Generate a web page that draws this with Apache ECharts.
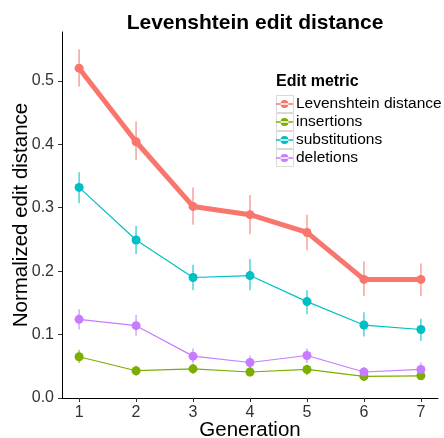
<!DOCTYPE html>
<html><head><meta charset="utf-8">
<script src="https://cdn.jsdelivr.net/npm/echarts@6/dist/echarts.min.js"></script>
<style>html,body{margin:0;padding:0;background:#fff}#c{width:444px;height:438px}</style>
</head><body><div id="c"></div>
<script>
const generations = [1, 2, 3, 4, 5, 6, 7];
const seriesNames = ['Levenshtein distance', 'insertions', 'substitutions', 'deletions'];
const colors = ['#F8766D', '#7CAE00', '#00BFC4', '#C77CFF'];
const levMean = [0.520, 0.404, 0.302, 0.289, 0.261, 0.187, 0.187];
const levLow  = [0.491, 0.375, 0.273, 0.258, 0.233, 0.161, 0.161];
const levHigh = [0.550, 0.436, 0.332, 0.320, 0.289, 0.215, 0.212];
const insMean = [0.065, 0.043, 0.046, 0.041, 0.045, 0.034, 0.035];
const insLow  = [0.055, 0.035, 0.038, 0.034, 0.036, 0.028, 0.029];
const insHigh = [0.076, 0.051, 0.054, 0.049, 0.053, 0.040, 0.042];
const subMean = [0.332, 0.249, 0.190, 0.193, 0.152, 0.115, 0.108];
const subLow  = [0.307, 0.227, 0.170, 0.170, 0.132, 0.097, 0.090];
const subHigh = [0.356, 0.271, 0.210, 0.219, 0.170, 0.135, 0.125];
const delMean = [0.124, 0.114, 0.066, 0.056, 0.067, 0.041, 0.045];
const delLow  = [0.108, 0.098, 0.055, 0.046, 0.055, 0.033, 0.035];
const delHigh = [0.140, 0.131, 0.078, 0.067, 0.078, 0.049, 0.056];
const yTicks = [0, 0.1, 0.2, 0.3, 0.4, 0.5];

const means = [levMean, insMean, subMean, delMean];
const lows = [levLow, insLow, subLow, delLow];
const highs = [levHigh, insHigh, subHigh, delHigh];
const widths = [5, 1.2, 1.2, 1.2];
const FONT = 'Liberation Sans, Arial, sans-serif';

const chart = echarts.init(document.getElementById('c'), null, {renderer: 'canvas'});
const series = [];
seriesNames.forEach((name, i) => {
  series.push({
    type: 'custom', name: name + ' err', silent: true, z: 1,
    data: generations.map((g, k) => [g, lows[i][k], highs[i][k]]),
    renderItem: (params, api) => {
      const a = api.coord([api.value(0), api.value(1)]);
      const b = api.coord([api.value(0), api.value(2)]);
      return {type: 'line', shape: {x1: a[0], y1: a[1], x2: b[0], y2: b[1]},
        style: {stroke: colors[i], lineWidth: 1.3, opacity: 0.8}};
    }
  });
});
seriesNames.forEach((name, i) => {
  series.push({
    type: 'line', name: name, z: 2,
    data: generations.map((g, k) => [g, means[i][k]]),
    symbol: 'circle', symbolSize: 9, showSymbol: true,
    lineStyle: {color: colors[i], width: widths[i]},
    itemStyle: {color: colors[i]},
    emphasis: {disabled: true}, animation: false
  });
});
const legendIcon = 'path://M0 7.3H16V8.7H0Z M4.3 8A3.7 3.7 0 1 0 11.7 8A3.7 3.7 0 1 0 4.3 8Z';
const keyBoxes = seriesNames.map((n, i) => ({
  type: 'rect', left: 276, top: 95 + i * 18, z: 0,
  shape: {width: 17, height: 17},
  style: {fill: '#fff', stroke: '#d9d9d9', lineWidth: 1}
}));
chart.setOption({
  animation: false,
  title: [
    {text: 'Levenshtein edit distance', left: 250, textAlign: 'center', top: 8,
     textStyle: {fontFamily: FONT, fontSize: 21, fontWeight: 'bold', color: '#000'}},
    {text: 'Edit metric', left: 276, top: 74, padding: 0,
     textStyle: {fontFamily: FONT, fontSize: 16, fontWeight: 'bold', color: '#000'}}
  ],
  graphic: keyBoxes,
  legend: {
    left: 276, top: 95, orient: 'vertical', itemGap: 0, itemWidth: 17, itemHeight: 17,
    padding: 0, selectedMode: false,
    data: seriesNames.map((n, i) => ({name: n, icon: legendIcon, itemStyle: {color: colors[i]}})),
    textStyle: {fontFamily: FONT, fontSize: 15.5, lineHeight: 18, color: '#000', padding: [0, 0, 0, -2]}
  },
  grid: {left: 62, right: 6, top: 32, bottom: 40, containLabel: false, outerBoundsMode: 'none'},
  xAxis: {
    type: 'value', min: 0.7, max: 7.3,
    name: 'Generation', nameLocation: 'middle', nameGap: 22, nameMoveOverlap: false,
    nameTextStyle: {fontFamily: FONT, fontSize: 20.5, color: '#000'},
    axisLine: {show: true, lineStyle: {color: '#000', width: 1}},
    axisTick: {show: true, length: 4, lineStyle: {color: '#333'}, customValues: generations},
    axisLabel: {fontFamily: FONT, fontSize: 16, color: '#333', margin: 7, customValues: generations},
    splitLine: {show: false}
  },
  yAxis: {
    type: 'value', min: 0, max: 0.577,
    name: 'Normalized edit distance', nameLocation: 'middle', nameGap: 30, nameMoveOverlap: false,
    nameTextStyle: {fontFamily: FONT, fontSize: 20.5, color: '#000'},
    axisLine: {show: true, lineStyle: {color: '#000', width: 1}},
    axisTick: {show: true, length: 4, lineStyle: {color: '#333'}, customValues: yTicks},
    axisLabel: {fontFamily: FONT, fontSize: 16, color: '#333', margin: 8, customValues: yTicks,
      formatter: v => v.toFixed(1)},
    splitLine: {show: false}
  },
  series: series
});
</script></body></html>
